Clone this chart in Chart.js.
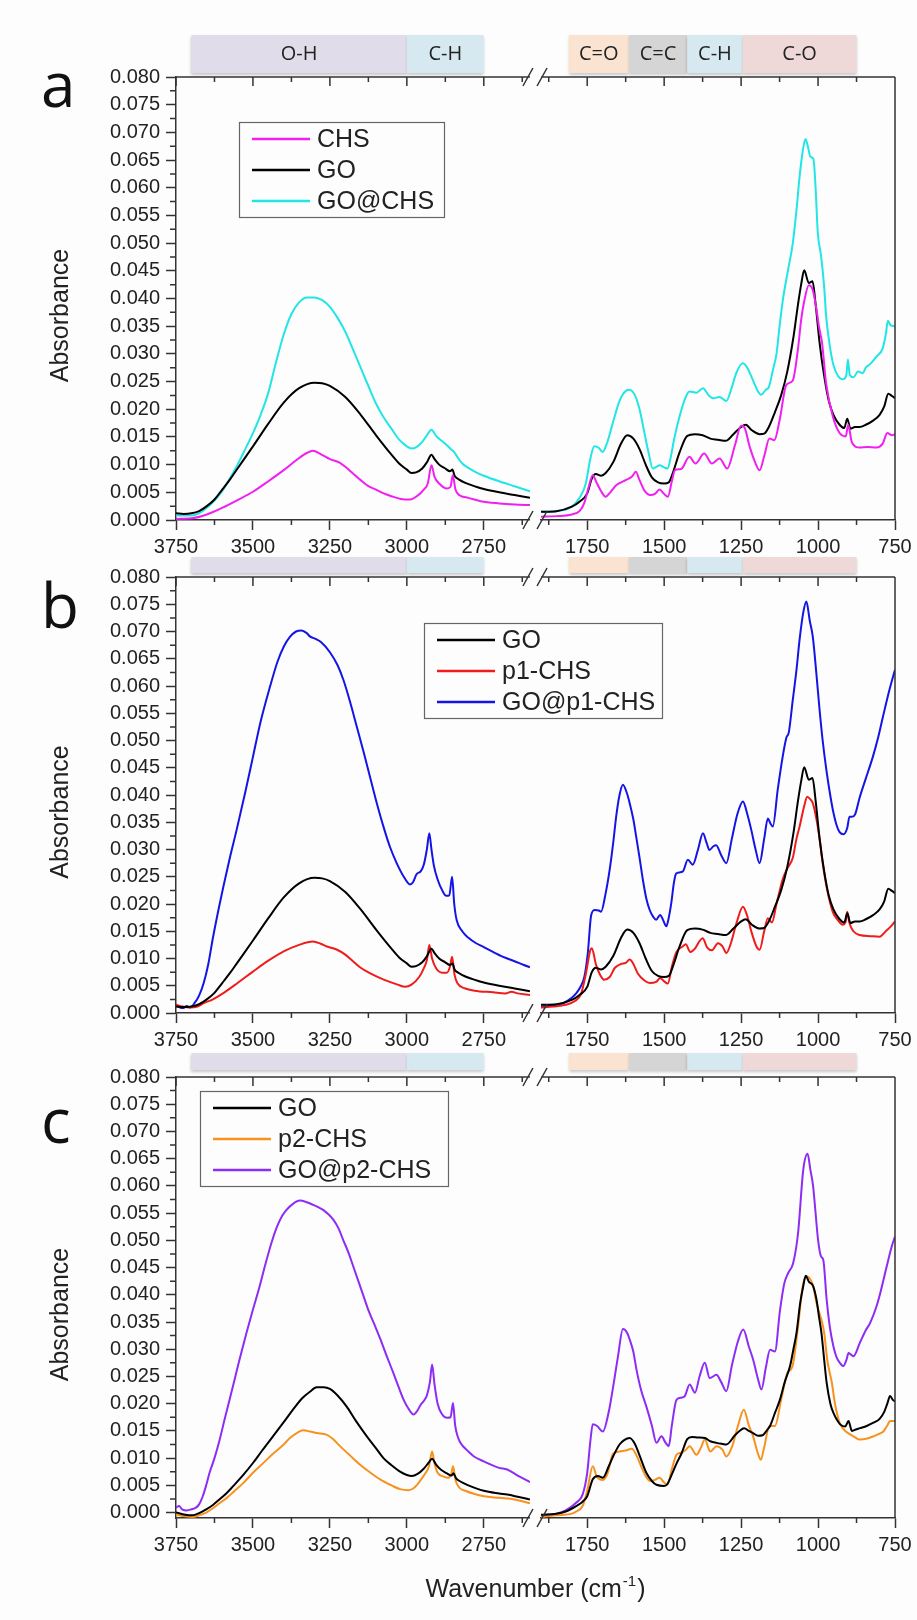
<!DOCTYPE html>
<html>
<head>
<meta charset="utf-8">
<script src="https://cdn.jsdelivr.net/npm/chart.js@4.4.1/dist/chart.umd.min.js"></script>
<style>
  html, body { margin: 0; padding: 0; background: #fdfdfd; }
  #wrap { position: relative; width: 917px; height: 1620px; overflow: hidden; }
  .panel { position: absolute; left: 0; }
</style>
</head>
<body>
<div id="wrap">
  <canvas class="panel" id="chartA" width="917" height="560" style="top:0"></canvas>
  <canvas class="panel" id="chartB" width="917" height="530" style="top:530px"></canvas>
  <canvas class="panel" id="chartC" width="917" height="590" style="top:1030px"></canvas>
</div>
<script>
// axis ranges (wavenumber, cm-1) and ticks
const X_MIN_L = 2600, X_MAX_L = 3750, X_MIN_R = 750, X_MAX_R = 1900, X_GAP = 36;
const X_TICKS_L = [3750, 3500, 3250, 3000, 2750];
const X_TICKS_R = [1750, 1500, 1250, 1000, 750];
const X_MINOR_L = [3625, 3375, 3125, 2875, 2625];
const X_MINOR_R = [1875, 1625, 1375, 1125, 875];
const Y_TICKS = [0, 0.005, 0.01, 0.015, 0.02, 0.025, 0.03, 0.035, 0.04, 0.045, 0.05, 0.055, 0.06, 0.065, 0.07, 0.075, 0.08];
const Y_MINOR = [0.0025, 0.0075, 0.0125, 0.0175, 0.0225, 0.0275, 0.0325, 0.0375, 0.0425, 0.0475, 0.0525, 0.0575, 0.0625, 0.0675, 0.0725, 0.0775];

// band assignments
const BAND_NAMES = ['O-H', 'C-H', 'C=O', 'C=C', 'C-H', 'C-O'];
const BAND_FROM = [3700, 3000, 1810, 1615, 1425, 1245];
const BAND_TO = [3000, 2750, 1615, 1425, 1245, 875];
const BAND_COLORS = ['#e1dce9', '#d6e9f0', '#fbe3d1', '#d5d5d5', '#d6e9f0', '#eed8d8'];

// GO (panels a and b)
const GO_L = [[3750,0.0012],[3725,0.0011],[3700,0.0012],[3675,0.0016],[3650,0.0025],[3625,0.0037],[3600,0.0055],[3575,0.0073],[3550,0.0093],[3500,0.0133],[3450,0.0174],[3400,0.0212],[3350,0.0238],[3300,0.0248],[3275,0.0247],[3250,0.0242],[3200,0.0222],[3150,0.0190],[3100,0.0153],[3050,0.0118],[3025,0.0102],[3000,0.0091],[2985,0.0085],[2970,0.0086],[2950,0.0093],[2935,0.0104],[2920,0.0118],[2910,0.0110],[2895,0.0100],[2875,0.0093],[2860,0.0088],[2852,0.0091],[2845,0.0080],[2830,0.0073],[2810,0.0067],[2775,0.0060],[2750,0.0056],[2700,0.0050],[2650,0.0045],[2600,0.0040]];
const GO_R = [[1900,0.0015],[1850,0.0016],[1800,0.0024],[1775,0.0033],[1750,0.0048],[1735,0.0075],[1722,0.0083],[1705,0.0080],[1690,0.0085],[1665,0.0105],[1640,0.0138],[1620,0.0153],[1600,0.0147],[1580,0.0128],[1560,0.0100],[1540,0.0077],[1520,0.0068],[1500,0.0066],[1485,0.0068],[1470,0.0088],[1450,0.0122],[1425,0.0152],[1400,0.0155],[1375,0.0153],[1350,0.0147],[1325,0.0145],[1300,0.0143],[1275,0.0155],[1250,0.0168],[1235,0.0172],[1215,0.0162],[1190,0.0155],[1175,0.0156],[1160,0.0168],[1140,0.0195],[1120,0.0225],[1100,0.0268],[1080,0.0330],[1065,0.0390],[1055,0.0425],[1045,0.0451],[1030,0.0428],[1018,0.0431],[1008,0.0390],[995,0.0320],[980,0.0260],[965,0.0215],[950,0.0190],[930,0.0172],[915,0.0166],[905,0.0183],[895,0.0165],[880,0.0168],[865,0.0168],[845,0.0172],[820,0.0180],[800,0.0190],[785,0.0205],[772,0.0228],[760,0.0224],[750,0.0220]];

// CHS (panel a)
const CHS_L = [[3750,0.0002],[3700,0.0003],[3650,0.0010],[3600,0.0022],[3550,0.0036],[3500,0.0051],[3450,0.0070],[3400,0.0090],[3350,0.0112],[3325,0.0121],[3305,0.0125],[3280,0.0119],[3250,0.0110],[3220,0.0104],[3200,0.0096],[3175,0.0084],[3150,0.0072],[3125,0.0061],[3100,0.0055],[3075,0.0048],[3050,0.0043],[3020,0.0038],[2990,0.0037],[2965,0.0044],[2945,0.0055],[2932,0.0066],[2920,0.0099],[2910,0.0078],[2895,0.0066],[2870,0.0057],[2858,0.0060],[2851,0.0081],[2842,0.0055],[2830,0.0045],[2800,0.0040],[2760,0.0034],[2700,0.0030],[2650,0.0028],[2600,0.0027]];
const CHS_R = [[1900,0.0006],[1850,0.0007],[1800,0.0010],[1775,0.0016],[1760,0.0030],[1745,0.0060],[1732,0.0081],[1720,0.0068],[1705,0.0052],[1690,0.0042],[1675,0.0050],[1655,0.0063],[1625,0.0072],[1605,0.0078],[1592,0.0087],[1580,0.0072],[1565,0.0054],[1545,0.0045],[1530,0.0047],[1515,0.0055],[1500,0.0047],[1488,0.0042],[1475,0.0070],[1465,0.0090],[1445,0.0092],[1418,0.0114],[1398,0.0102],[1370,0.0120],[1345,0.0102],[1320,0.0111],[1295,0.0093],[1270,0.0135],[1250,0.0170],[1240,0.0168],[1222,0.0132],[1205,0.0105],[1190,0.0090],[1175,0.0115],[1158,0.0147],[1142,0.0144],[1125,0.0180],[1103,0.0244],[1082,0.0252],[1065,0.0310],[1055,0.0361],[1045,0.0395],[1030,0.0424],[1017,0.0415],[1005,0.0380],[997,0.0349],[987,0.0320],[974,0.0247],[952,0.0187],[930,0.0157],[910,0.0151],[902,0.0172],[890,0.0140],[865,0.0131],[840,0.0132],[810,0.0131],[790,0.0138],[775,0.0157],[760,0.0153],[750,0.0155]];

// GO@CHS (panel a)
const GOCHS_L = [[3750,0.0008],[3700,0.0008],[3675,0.0012],[3650,0.0022],[3625,0.0035],[3600,0.0052],[3575,0.0075],[3550,0.0100],[3525,0.0128],[3500,0.0157],[3475,0.0190],[3450,0.0230],[3425,0.0285],[3400,0.0335],[3375,0.0372],[3350,0.0393],[3325,0.0402],[3300,0.0402],[3275,0.0397],[3250,0.0385],[3225,0.0365],[3200,0.0340],[3175,0.0308],[3150,0.0275],[3125,0.0242],[3100,0.0210],[3075,0.0185],[3050,0.0165],[3025,0.0145],[3000,0.0133],[2985,0.0129],[2970,0.0131],[2950,0.0141],[2935,0.0153],[2920,0.0163],[2905,0.0152],[2885,0.0142],[2870,0.0135],[2855,0.0127],[2848,0.0124],[2835,0.0113],[2820,0.0102],[2800,0.0094],[2775,0.0086],[2750,0.0080],[2700,0.0070],[2650,0.0061],[2600,0.0052]];
const GOCHS_R = [[1900,0.0015],[1850,0.0016],[1800,0.0024],[1775,0.0040],[1755,0.0065],[1740,0.0110],[1727,0.0133],[1712,0.0130],[1700,0.0123],[1685,0.0140],[1667,0.0175],[1645,0.0215],[1625,0.0233],[1613,0.0235],[1595,0.0225],[1580,0.0200],[1565,0.0160],[1550,0.0120],[1537,0.0093],[1525,0.0096],[1515,0.0099],[1500,0.0095],[1489,0.0093],[1478,0.0115],[1468,0.0145],[1450,0.0187],[1430,0.0222],[1418,0.0232],[1395,0.0230],[1374,0.0238],[1355,0.0225],[1340,0.0220],[1320,0.0222],[1298,0.0215],[1280,0.0240],[1266,0.0265],[1245,0.0283],[1230,0.0275],[1212,0.0253],[1195,0.0232],[1185,0.0226],[1170,0.0235],[1160,0.0240],[1145,0.0275],[1135,0.0300],[1125,0.0350],[1115,0.0395],[1098,0.0450],[1082,0.0500],[1070,0.0560],[1060,0.0620],[1050,0.0665],[1041,0.0688],[1032,0.0672],[1025,0.0656],[1015,0.0652],[1008,0.0600],[1001,0.0520],[990,0.0476],[980,0.0420],[974,0.0370],[962,0.0315],[950,0.0280],[935,0.0260],[920,0.0254],[908,0.0262],[903,0.0290],[897,0.0262],[885,0.0258],[870,0.0268],[855,0.0265],[845,0.0275],[830,0.0282],[810,0.0295],[790,0.0310],[780,0.0335],[773,0.0360],[765,0.0352],[750,0.0350]];

// p1-CHS (panel b)
const P1_L = [[3750,0.0015],[3730,0.0012],[3705,0.0010],[3680,0.0012],[3660,0.0018],[3630,0.0025],[3600,0.0035],[3550,0.0055],[3500,0.0076],[3450,0.0096],[3400,0.0113],[3350,0.0125],[3305,0.0131],[3280,0.0127],[3260,0.0122],[3230,0.0117],[3200,0.0107],[3175,0.0095],[3150,0.0083],[3120,0.0073],[3090,0.0065],[3060,0.0058],[3030,0.0052],[3005,0.0048],[2985,0.0052],[2960,0.0066],[2945,0.0082],[2935,0.0097],[2927,0.0125],[2918,0.0100],[2905,0.0082],[2885,0.0074],[2870,0.0074],[2860,0.0085],[2853,0.0103],[2845,0.0070],[2835,0.0054],[2810,0.0045],[2780,0.0041],[2720,0.0038],[2680,0.0036],[2660,0.0039],[2640,0.0036],[2600,0.0033]];
const P1_R = [[1900,0.0010],[1860,0.0012],[1820,0.0015],[1790,0.0022],[1770,0.0035],[1755,0.0070],[1740,0.0115],[1735,0.0119],[1722,0.0090],[1710,0.0072],[1695,0.0061],[1677,0.0066],[1660,0.0083],[1640,0.0090],[1625,0.0092],[1612,0.0098],[1600,0.0090],[1585,0.0072],[1565,0.0060],[1547,0.0055],[1526,0.0057],[1513,0.0064],[1500,0.0058],[1488,0.0054],[1475,0.0085],[1460,0.0112],[1440,0.0122],[1430,0.0126],[1415,0.0112],[1400,0.0118],[1385,0.0132],[1375,0.0137],[1360,0.0120],[1345,0.0115],[1325,0.0128],[1310,0.0122],[1298,0.0110],[1285,0.0125],[1265,0.0165],[1244,0.0195],[1230,0.0178],[1217,0.0150],[1200,0.0122],[1190,0.0116],[1175,0.0150],[1163,0.0174],[1150,0.0166],[1135,0.0200],[1115,0.0245],[1100,0.0265],[1082,0.0285],[1070,0.0320],[1060,0.0342],[1045,0.0380],[1035,0.0397],[1025,0.0392],[1017,0.0385],[1005,0.0355],[995,0.0320],[985,0.0275],[970,0.0225],[952,0.0185],[935,0.0170],[920,0.0162],[910,0.0168],[905,0.0186],[898,0.0165],[885,0.0150],[865,0.0143],[830,0.0141],[800,0.0140],[780,0.0150],[765,0.0158],[750,0.0168]];

// GO@p1-CHS (panel b)
const GOP1_L = [[3750,0.0015],[3740,0.0011],[3726,0.0009],[3715,0.0013],[3705,0.0010],[3690,0.0018],[3675,0.0032],[3660,0.0055],[3645,0.0090],[3630,0.0138],[3610,0.0195],[3596,0.0232],[3575,0.0285],[3553,0.0336],[3525,0.0405],[3500,0.0470],[3475,0.0535],[3445,0.0598],[3420,0.0645],[3400,0.0672],[3380,0.0690],[3360,0.0700],[3342,0.0702],[3325,0.0697],[3315,0.0691],[3295,0.0686],[3280,0.0681],[3250,0.0662],[3225,0.0638],[3206,0.0611],[3185,0.0572],[3163,0.0526],[3140,0.0478],[3120,0.0434],[3100,0.0390],[3076,0.0342],[3055,0.0305],[3033,0.0275],[3010,0.0250],[2990,0.0236],[2980,0.0240],[2968,0.0255],[2955,0.0260],[2945,0.0272],[2935,0.0300],[2927,0.0330],[2920,0.0300],[2912,0.0270],[2900,0.0245],[2885,0.0225],[2872,0.0215],[2862,0.0216],[2853,0.0250],[2846,0.0200],[2838,0.0170],[2820,0.0150],[2800,0.0138],[2775,0.0128],[2750,0.0121],[2720,0.0112],[2687,0.0103],[2650,0.0095],[2620,0.0088],[2600,0.0084]];
const GOP1_R = [[1900,0.0012],[1860,0.0014],[1829,0.0018],[1800,0.0028],[1786,0.0036],[1770,0.0050],[1759,0.0067],[1748,0.0110],[1737,0.0180],[1725,0.0189],[1712,0.0188],[1705,0.0186],[1690,0.0220],[1677,0.0263],[1665,0.0315],[1656,0.0360],[1645,0.0400],[1634,0.0419],[1622,0.0405],[1612,0.0385],[1600,0.0355],[1591,0.0324],[1580,0.0285],[1569,0.0244],[1558,0.0210],[1547,0.0189],[1535,0.0176],[1526,0.0171],[1513,0.0180],[1503,0.0170],[1493,0.0159],[1485,0.0175],[1477,0.0201],[1468,0.0240],[1461,0.0256],[1450,0.0258],[1439,0.0260],[1423,0.0281],[1407,0.0272],[1390,0.0300],[1374,0.0330],[1362,0.0312],[1353,0.0299],[1340,0.0306],[1331,0.0308],[1315,0.0290],[1298,0.0275],[1280,0.0320],[1262,0.0365],[1244,0.0388],[1230,0.0365],[1217,0.0336],[1203,0.0300],[1190,0.0275],[1175,0.0320],[1163,0.0357],[1155,0.0348],[1147,0.0342],[1131,0.0410],[1115,0.0470],[1103,0.0505],[1095,0.0515],[1082,0.0575],[1070,0.0630],[1060,0.0685],[1048,0.0735],[1038,0.0755],[1027,0.0720],[1017,0.0690],[1005,0.0620],[995,0.0556],[985,0.0500],[973,0.0446],[962,0.0405],[952,0.0373],[940,0.0345],[930,0.0332],[917,0.0328],[905,0.0340],[898,0.0360],[890,0.0360],[880,0.0364],[865,0.0395],[845,0.0430],[822,0.0470],[805,0.0505],[789,0.0544],[768,0.0593],[750,0.0630]];

// GO (panel c)
const GOC_L = [[3750,0.0000],[3720,-0.0004],[3696,-0.0005],[3675,-0.0001],[3652,0.0006],[3630,0.0014],[3609,0.0024],[3585,0.0036],[3565,0.0048],[3530,0.0070],[3500,0.0091],[3470,0.0114],[3435,0.0140],[3400,0.0166],[3370,0.0189],[3340,0.0210],[3315,0.0222],[3293,0.0230],[3270,0.0230],[3250,0.0227],[3225,0.0215],[3196,0.0195],[3165,0.0168],[3130,0.0140],[3100,0.0118],[3076,0.0100],[3050,0.0087],[3022,0.0075],[3000,0.0069],[2984,0.0067],[2965,0.0071],[2946,0.0080],[2930,0.0091],[2918,0.0099],[2905,0.0088],[2890,0.0079],[2870,0.0072],[2855,0.0068],[2849,0.0072],[2840,0.0063],[2826,0.0057],[2800,0.0050],[2750,0.0040],[2700,0.0035],[2674,0.0033],[2640,0.0029],[2600,0.0024]];
const GOC_R = [[1900,-0.0004],[1850,-0.0002],[1820,0.0002],[1786,0.0012],[1765,0.0020],[1750,0.0030],[1732,0.0061],[1715,0.0067],[1699,0.0064],[1680,0.0085],[1666,0.0103],[1645,0.0125],[1630,0.0133],[1612,0.0137],[1595,0.0126],[1580,0.0105],[1558,0.0073],[1540,0.0058],[1525,0.0051],[1500,0.0049],[1490,0.0052],[1475,0.0070],[1460,0.0090],[1444,0.0108],[1425,0.0135],[1410,0.0139],[1390,0.0138],[1368,0.0137],[1350,0.0131],[1330,0.0128],[1310,0.0126],[1298,0.0125],[1270,0.0142],[1250,0.0152],[1240,0.0155],[1225,0.0150],[1211,0.0146],[1195,0.0141],[1180,0.0142],[1165,0.0152],[1156,0.0159],[1140,0.0183],[1124,0.0207],[1108,0.0240],[1091,0.0269],[1080,0.0300],[1070,0.0330],[1058,0.0385],[1048,0.0416],[1040,0.0435],[1030,0.0424],[1016,0.0416],[1005,0.0391],[997,0.0360],[989,0.0330],[980,0.0280],[972,0.0238],[960,0.0200],[950,0.0183],[928,0.0162],[912,0.0158],[901,0.0168],[890,0.0150],[875,0.0153],[864,0.0155],[842,0.0159],[820,0.0165],[800,0.0172],[785,0.0185],[775,0.0200],[766,0.0214],[757,0.0207],[750,0.0204]];

// p2-CHS (panel c)
const P2_L = [[3750,-0.0004],[3720,-0.0007],[3696,-0.0008],[3675,-0.0005],[3652,0.0000],[3630,0.0008],[3609,0.0017],[3585,0.0027],[3565,0.0037],[3530,0.0055],[3500,0.0073],[3470,0.0089],[3435,0.0108],[3400,0.0125],[3380,0.0137],[3355,0.0147],[3337,0.0151],[3315,0.0149],[3293,0.0146],[3261,0.0143],[3240,0.0135],[3217,0.0122],[3185,0.0105],[3152,0.0088],[3120,0.0074],[3087,0.0061],[3050,0.0050],[3022,0.0043],[2995,0.0041],[2975,0.0046],[2957,0.0058],[2940,0.0072],[2928,0.0085],[2918,0.0112],[2910,0.0090],[2900,0.0073],[2880,0.0066],[2866,0.0064],[2856,0.0070],[2850,0.0085],[2842,0.0060],[2830,0.0046],[2810,0.0040],[2780,0.0034],[2750,0.0030],[2700,0.0027],[2650,0.0024],[2600,0.0017]];
const P2_R = [[1900,-0.0008],[1850,-0.0005],[1800,-0.0002],[1786,0.0002],[1765,0.0012],[1750,0.0040],[1732,0.0085],[1718,0.0065],[1699,0.0060],[1685,0.0070],[1666,0.0108],[1645,0.0112],[1625,0.0114],[1605,0.0117],[1590,0.0105],[1575,0.0085],[1558,0.0065],[1545,0.0058],[1530,0.0060],[1515,0.0064],[1500,0.0055],[1490,0.0051],[1475,0.0080],[1460,0.0106],[1444,0.0110],[1430,0.0115],[1417,0.0122],[1395,0.0106],[1380,0.0120],[1368,0.0134],[1350,0.0112],[1330,0.0122],[1310,0.0115],[1298,0.0103],[1280,0.0120],[1260,0.0160],[1241,0.0189],[1225,0.0160],[1211,0.0140],[1195,0.0108],[1186,0.0097],[1175,0.0120],[1158,0.0159],[1140,0.0159],[1120,0.0207],[1100,0.0256],[1083,0.0269],[1065,0.0342],[1050,0.0415],[1037,0.0434],[1025,0.0428],[1016,0.0416],[1005,0.0385],[995,0.0365],[989,0.0354],[980,0.0330],[970,0.0280],[955,0.0238],[945,0.0200],[930,0.0165],[915,0.0152],[900,0.0145],[885,0.0140],[864,0.0134],[840,0.0136],[820,0.0140],[800,0.0145],[788,0.0149],[775,0.0160],[766,0.0168],[750,0.0168]];

// GO@p2-CHS (panel c)
const GOP2_L = [[3750,0.0009],[3740,0.0012],[3730,0.0006],[3715,0.0004],[3700,0.0006],[3685,0.0009],[3675,0.0015],[3663,0.0030],[3652,0.0050],[3641,0.0073],[3625,0.0100],[3609,0.0132],[3590,0.0176],[3565,0.0232],[3545,0.0278],[3522,0.0328],[3500,0.0373],[3480,0.0412],[3460,0.0455],[3440,0.0495],[3424,0.0522],[3405,0.0545],[3391,0.0556],[3370,0.0567],[3348,0.0573],[3325,0.0570],[3304,0.0565],[3285,0.0560],[3272,0.0556],[3255,0.0548],[3239,0.0538],[3222,0.0522],[3207,0.0501],[3190,0.0478],[3174,0.0452],[3155,0.0421],[3141,0.0398],[3125,0.0372],[3105,0.0345],[3087,0.0320],[3065,0.0287],[3043,0.0255],[3025,0.0228],[3011,0.0208],[2995,0.0191],[2978,0.0180],[2965,0.0188],[2955,0.0198],[2945,0.0205],[2935,0.0215],[2925,0.0240],[2918,0.0272],[2910,0.0235],[2900,0.0200],[2885,0.0180],[2870,0.0174],[2858,0.0175],[2850,0.0201],[2843,0.0160],[2835,0.0140],[2826,0.0128],[2800,0.0112],[2782,0.0103],[2750,0.0094],[2700,0.0082],[2674,0.0079],[2640,0.0068],[2600,0.0056]];
const GOP2_R = [[1900,-0.0006],[1850,-0.0002],[1820,0.0004],[1786,0.0018],[1765,0.0033],[1750,0.0073],[1740,0.0130],[1732,0.0162],[1718,0.0159],[1699,0.0149],[1680,0.0185],[1666,0.0230],[1650,0.0287],[1634,0.0337],[1620,0.0330],[1612,0.0318],[1600,0.0295],[1590,0.0263],[1575,0.0225],[1558,0.0195],[1540,0.0160],[1525,0.0128],[1509,0.0140],[1495,0.0128],[1485,0.0122],[1475,0.0160],[1460,0.0207],[1444,0.0211],[1433,0.0214],[1417,0.0235],[1400,0.0220],[1385,0.0250],[1368,0.0275],[1352,0.0247],[1330,0.0253],[1315,0.0240],[1298,0.0223],[1280,0.0270],[1260,0.0315],[1243,0.0336],[1225,0.0305],[1211,0.0281],[1195,0.0245],[1184,0.0226],[1170,0.0265],[1156,0.0299],[1140,0.0296],[1124,0.0370],[1110,0.0420],[1097,0.0440],[1081,0.0458],[1065,0.0513],[1048,0.0630],[1034,0.0659],[1025,0.0630],[1016,0.0599],[1008,0.0550],[1000,0.0501],[990,0.0470],[983,0.0464],[972,0.0391],[962,0.0342],[950,0.0305],[939,0.0284],[925,0.0272],[918,0.0269],[908,0.0280],[901,0.0293],[893,0.0290],[885,0.0287],[864,0.0312],[845,0.0335],[831,0.0348],[810,0.0379],[798,0.0403],[777,0.0452],[760,0.0490],[750,0.0507]];

const AXIS = '#333333';
const TXT = '#222222';
const SANS = '"Liberation Sans", Arial, sans-serif';

function decor(series, cfg) {
  return {
    id: 'decor',
    afterDraw(chart) {
      const { ctx, chartArea: ca } = chart;
      const { xL, xR, xGap, y } = chart.scales;
      const px = v => (v > 2300 ? xL : xR).getPixelForValue(v);
      ctx.save();

      // band strip above the plot
      const bt = ca.top - cfg.bandTop, bb = ca.top - cfg.bandBottom;
      BAND_NAMES.forEach((name, i) => {
        const x0 = px(BAND_FROM[i]), x1 = px(BAND_TO[i]);
        ctx.save();
        ctx.shadowColor = 'rgba(0,0,0,0.22)';
        ctx.shadowBlur = 3;
        ctx.shadowOffsetY = 2;
        ctx.fillStyle = BAND_COLORS[i];
        ctx.fillRect(x0, bt, x1 - x0, bb - bt);
        ctx.restore();
        if (cfg.bandLabels) {
          ctx.fillStyle = TXT;
          ctx.font = '20px "Open Sans"';
          ctx.textAlign = 'center';
          ctx.textBaseline = 'middle';
          ctx.fillText(name, (x0 + x1) / 2, (bt + bb) / 2);
        }
      });

      // frame, mirror ticks, minor ticks
      ctx.strokeStyle = AXIS;
      ctx.lineWidth = 1.5;
      ctx.beginPath();
      ctx.moveTo(xL.left, ca.top); ctx.lineTo(xL.right, ca.top);
      ctx.moveTo(xR.left, ca.top); ctx.lineTo(ca.right, ca.top);
      ctx.moveTo(ca.right, ca.top); ctx.lineTo(ca.right, ca.bottom);
      X_TICKS_L.concat(X_TICKS_R).forEach(v => {
        const x = px(v);
        ctx.moveTo(x, ca.top); ctx.lineTo(x, ca.top + 9);
      });
      X_MINOR_L.concat(X_MINOR_R).forEach(v => {
        const x = px(v);
        ctx.moveTo(x, ca.top); ctx.lineTo(x, ca.top + 5);
        ctx.moveTo(x, ca.bottom); ctx.lineTo(x, ca.bottom + 5);
      });
      Y_MINOR.forEach(v => {
        const yy = y.getPixelForValue(v);
        ctx.moveTo(ca.left - 6, yy); ctx.lineTo(ca.left, yy);
      });
      // axis break marks
      [ca.top, ca.bottom].forEach(yy => {
        [xGap.left - 2, xGap.right + 1].forEach(cx => {
          ctx.moveTo(cx - 5, yy + 9); ctx.lineTo(cx + 5, yy - 9);
        });
      });
      ctx.stroke();

      // legend
      const L = cfg.legend;
      ctx.fillStyle = '#fdfdfd';
      ctx.fillRect(L.left, L.top, L.w, 95);
      ctx.strokeStyle = '#666';
      ctx.lineWidth = 1.2;
      ctx.strokeRect(L.left + 0.5, L.top + 0.5, L.w, 95);
      ctx.font = '25px ' + SANS;
      ctx.textAlign = 'left';
      ctx.textBaseline = 'middle';
      series.forEach((s, i) => {
        const ry = L.top + 17 + i * 31;
        ctx.strokeStyle = s.color;
        ctx.lineWidth = 2.5;
        ctx.beginPath();
        ctx.moveTo(L.left + 13, ry); ctx.lineTo(L.left + 71, ry);
        ctx.stroke();
        ctx.fillStyle = TXT;
        ctx.fillText(s.label, L.left + 78, ry + 1);
      });

      // panel letter
      ctx.fillStyle = '#111';
      ctx.font = '62px "Open Sans"';
      ctx.textBaseline = 'alphabetic';
      ctx.fillText(cfg.letter, 41, cfg.letterY);

      // y title
      ctx.save();
      ctx.translate(61, (ca.top + ca.bottom) / 2 + 17);
      ctx.rotate(-Math.PI / 2);
      ctx.font = '25px ' + SANS;
      ctx.textAlign = 'center';
      ctx.textBaseline = 'middle';
      ctx.fillStyle = TXT;
      ctx.fillText('Absorbance', 0, 0);
      ctx.restore();

      // x title with superscript
      if (cfg.xTitle) {
        const f1 = '25px ' + SANS, f2 = '15px ' + SANS;
        ctx.fillStyle = TXT;
        ctx.textAlign = 'left';
        ctx.textBaseline = 'alphabetic';
        ctx.font = f1;
        const w1 = ctx.measureText('Wavenumber (cm').width, w3 = ctx.measureText(')').width;
        ctx.font = f2;
        const w2 = ctx.measureText('-1').width;
        let x = (ca.left + ca.right) / 2 - (w1 + w2 + w3 + 2) / 2;
        const base = ca.bottom + 79;
        ctx.font = f1; ctx.fillText('Wavenumber (cm', x, base); x += w1 + 1;
        ctx.font = f2; ctx.fillText('-1', x, base - 11); x += w2 + 1;
        ctx.font = f1; ctx.fillText(')', x, base);
      }
      ctx.restore();
    }
  };
}

function xAxis(ticks, min, max) {
  return {
    type: 'linear', position: 'bottom', stack: 'wn', stackWeight: max - min,
    reverse: true, min, max,
    afterBuildTicks: s => { s.ticks = ticks.map(v => ({ value: v })); },
    afterFit: s => { s.height = 40; },
    ticks: { font: { family: SANS, size: 20 }, color: TXT, padding: 5, maxRotation: 0, autoSkip: false, callback: v => String(v) },
    grid: { display: true, drawOnChartArea: false, drawTicks: true, tickLength: 10, tickColor: AXIS, tickWidth: 1.5 },
    border: { display: true, color: AXIS, width: 1.5 }
  };
}

function makePanel(id, series, cfg) {
  const datasets = [];
  series.forEach(s => {
    [['xL', s.left], ['xR', s.right]].forEach(([axis, pts]) => {
      datasets.push({
        label: s.label,
        data: pts.map(p => ({ x: p[0], y: p[1] })),
        xAxisID: axis, yAxisID: 'y',
        borderColor: s.color, borderWidth: 2,
        pointRadius: 0, fill: false,
        cubicInterpolationMode: 'monotone'
      });
    });
  });
  new Chart(document.getElementById(id), {
    type: 'line',
    data: { datasets },
    options: {
      responsive: false, animation: false, devicePixelRatio: 1, events: [],
      layout: { padding: { left: 45, right: 22, top: cfg.padTop, bottom: cfg.padBottom } },
      plugins: { legend: { display: false }, tooltip: { enabled: false } },
      scales: {
        y: {
          type: 'linear', position: 'left', min: cfg.yMin, max: 0.08,
          afterBuildTicks: s => { s.ticks = Y_TICKS.map(v => ({ value: v })); },
          afterFit: s => { s.width = 131; },
          ticks: { font: { family: SANS, size: 20 }, color: TXT, padding: 6, autoSkip: false, callback: v => v.toFixed(3) },
          grid: { display: true, drawOnChartArea: false, drawTicks: true, tickLength: 10, tickColor: AXIS, tickWidth: 1.5 },
          border: { display: true, color: AXIS, width: 1.5 }
        },
        xL: xAxis(X_TICKS_L, X_MIN_L, X_MAX_L),
        xGap: {
          type: 'linear', position: 'bottom', stack: 'wn', stackWeight: X_GAP,
          display: true, grid: { display: false }, border: { display: false }, ticks: { display: false }
        },
        xR: xAxis(X_TICKS_R, X_MIN_R, X_MAX_R)
      }
    },
    plugins: [decor(series, cfg)]
  });
}

makePanel('chartA', [
  { label: 'CHS', color: '#f020f0', left: CHS_L, right: CHS_R },
  { label: 'GO', color: '#000000', left: GO_L, right: GO_R },
  { label: 'GO@CHS', color: '#22e5e5', left: GOCHS_L, right: GOCHS_R }
], { letter: 'a', letterY: 107, padTop: 77, padBottom: 0, yMin: 0, bandTop: 42, bandBottom: 4, bandLabels: true,
     legend: { left: 239, top: 122, w: 205 }, xTitle: false });

makePanel('chartB', [
  { label: 'GO', color: '#000000', left: GO_L, right: GO_R },
  { label: 'p1-CHS', color: '#f01c1c', left: P1_L, right: P1_R },
  { label: 'GO@p1-CHS', color: '#1414e6', left: GOP1_L, right: GOP1_R }
], { letter: 'b', letterY: 98, padTop: 47, padBottom: 7, yMin: 0, bandTop: 20, bandBottom: 4, bandLabels: false,
     legend: { left: 424, top: 93, w: 238 }, xTitle: false });

makePanel('chartC', [
  { label: 'GO', color: '#000000', left: GOC_L, right: GOC_R },
  { label: 'p2-CHS', color: '#f7921e', left: P2_L, right: P2_R },
  { label: 'GO@p2-CHS', color: '#8c2cf5', left: GOP2_L, right: GOP2_R }
], { letter: 'c', letterY: 113, padTop: 47, padBottom: 62, yMin: -0.001, bandTop: 24, bandBottom: 7, bandLabels: false,
     legend: { left: 200, top: 61, w: 248 }, xTitle: true });
</script>
</body>
</html>
